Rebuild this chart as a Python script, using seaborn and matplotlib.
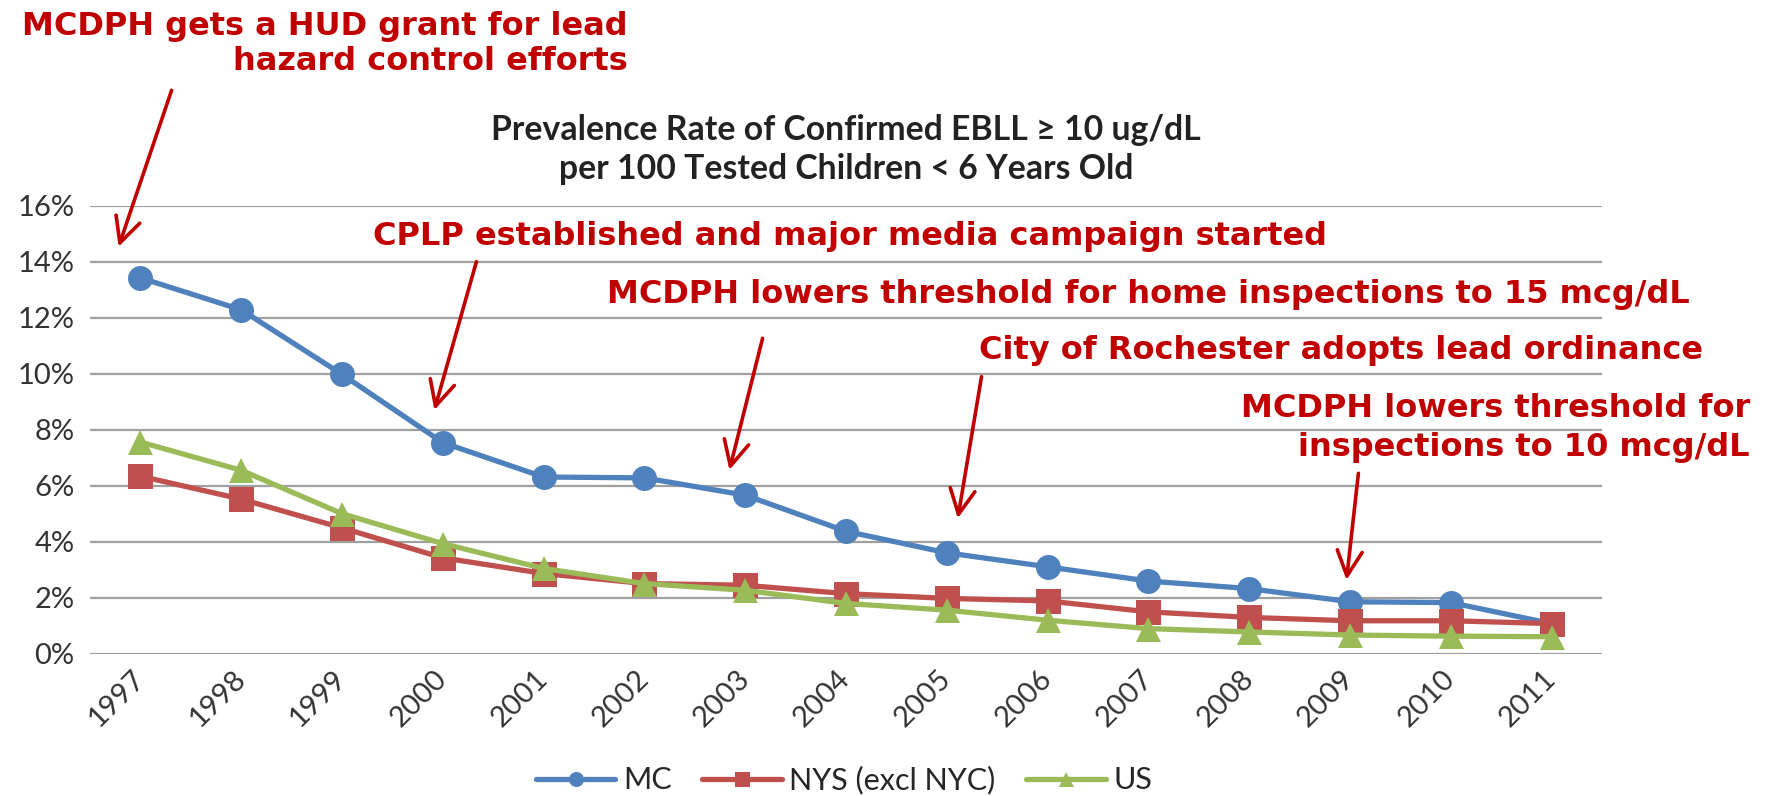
import matplotlib
matplotlib.use("Agg")
import matplotlib.pyplot as plt
from matplotlib.transforms import ScaledTranslation
import seaborn as sns
import pandas as pd
import numpy as np

years = list(range(1997, 2012))
mc = [13.43, 12.29, 9.98, 7.54, 6.31, 6.28, 5.66, 4.37, 3.60, 3.10, 2.59, 2.32, 1.85, 1.82, 1.07]
nys = [6.34, 5.52, 4.49, 3.42, 2.86, 2.50, 2.44, 2.14, 1.97, 1.88, 1.49, 1.29, 1.17, 1.17, 1.07]
us = [7.56, 6.55, 5.00, 3.93, 3.04, 2.50, 2.26, 1.79, 1.55, 1.19, 0.89, 0.77, 0.66, 0.62, 0.60]
series_names = ["MC", "NYS (excl NYC)", "US"]
yticks = [0, 2, 4, 6, 8, 10, 12, 14, 16]

df = pd.DataFrame({
    "year": years * 3,
    "rate": np.array(mc + nys + us) / 100.0,
    "series": [series_names[0]] * 15 + [series_names[1]] * 15 + [series_names[2]] * 15,
})

sns.set_theme(style="white")
plt.rcParams['font.family'] = ['Lato', 'DejaVu Sans']

W, H = 1770, 796
fig = plt.figure(figsize=(W / 100, H / 100), dpi=100)
ax = fig.add_axes([90 / W, 1 - 653.5 / H, (1602 - 90) / W, (653.5 - 206) / H])

palette = {"MC": "#4F81BD", "NYS (excl NYC)": "#C0504D", "US": "#9BBB59"}
markers = {"MC": "o", "NYS (excl NYC)": "s", "US": "^"}
sns.lineplot(data=df, x="year", y="rate", hue="series", style="series",
             palette=palette, markers=markers, dashes=False, linewidth=3.8,
             markersize=18, markeredgewidth=0, ax=ax, legend=True)

ax.set_xlim(years[0] - 0.5, years[-1] + 0.5)
ax.set_ylim(0, 0.16)
ax.set_yticks([v / 100 for v in yticks])
ax.set_yticklabels([f"{v}%" for v in yticks])
ax.set_xticks(years)
ax.set_xticklabels([str(y) for y in years], rotation=45, ha="right", va="center",
                   rotation_mode="anchor")
offset = ScaledTranslation(6 / 72, 0, fig.dpi_scale_trans)
for lab in ax.get_xticklabels():
    lab.set_transform(lab.get_transform() + offset)
ax.yaxis.grid(True, color="#A0A0A0", linewidth=1.6)
ax.xaxis.grid(False)
for s in ax.spines.values():
    s.set_visible(False)
ax.tick_params(axis="y", length=0, pad=11, labelsize=21, labelcolor="#333333")
ax.tick_params(axis="x", length=0, pad=15, labelsize=21, labelcolor="#333333")
ax.set_xlabel("")
ax.set_ylabel("")

handles, labels = ax.get_legend_handles_labels()
ax.legend(handles, labels, loc="center", bbox_to_anchor=(844 / W, 1 - 780 / H),
          bbox_transform=fig.transFigure, ncol=3, frameon=False, fontsize=22,
          handlelength=2.6, handletextpad=0.25, columnspacing=1.0, markerscale=0.6,
          labelcolor="#262626")

tkw = dict(ha="center", va="baseline", fontsize=24.3, fontweight="bold", color="#222222")
fig.text(846 / W, 1 - 140 / H, "Prevalence Rate of Confirmed EBLL \u2265 10 ug/dL", **tkw)
fig.text(846 / W, 1 - 179.3 / H, "per 100 Tested Children < 6 Years Old", **tkw)

red = "#C00000"
akw = dict(color=red, fontweight="bold", family=["DejaVu Sans"], fontsize=23, va="baseline")
fig.text(628 / W, 1 - 35 / H, "MCDPH gets a HUD grant for lead", ha="right", **akw)
fig.text(628 / W, 1 - 70 / H, "hazard control efforts", ha="right", **akw)
fig.text(373 / W, 1 - 245 / H, "CPLP established and major media campaign started",
         ha="left", **akw)
fig.text(607 / W, 1 - 303 / H, "MCDPH lowers threshold for home inspections to 15 mcg/dL",
         ha="left", **akw)
fig.text(979 / W, 1 - 359.5 / H, "City of Rochester adopts lead ordinance",
         ha="left", **akw)
fig.text(1750 / W, 1 - 417.3 / H, "MCDPH lowers threshold for", ha="right", **akw)
fig.text(1750 / W, 1 - 456 / H, "inspections to 10 mcg/dL", ha="right", **akw)

arrows = [((171.6, 90.3), (118.6, 246.7)),
          ((476.4, 261.7), (434.4, 410.0)),
          ((762.6, 338.3), (729.4, 470.0)),
          ((981.5, 376.7), (957.8, 518.3)),
          ((1358.4, 473.3), (1346.5, 580.0))]
for (x0, y0), (x1, y1) in arrows:
    ax.annotate("", xy=(x1, H - y1), xytext=(x0, H - y0),
                xycoords="figure pixels", textcoords="figure pixels",
                arrowprops=dict(arrowstyle="->,head_length=0.9,head_width=0.45",
                                color=red, lw=2.6, mutation_scale=20,
                                shrinkA=0, shrinkB=0))

fig.savefig("out.png", dpi=100)
